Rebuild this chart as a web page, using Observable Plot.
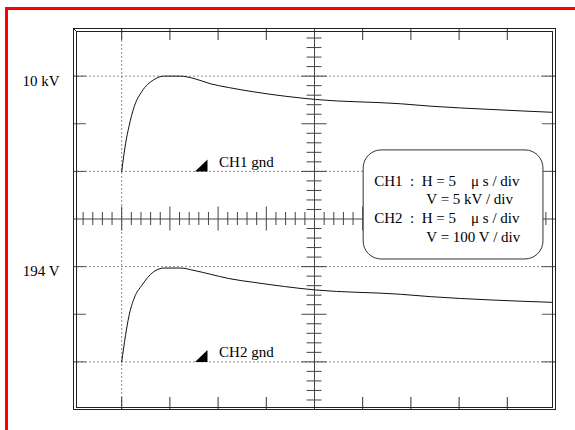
<!DOCTYPE html>
<html><head><meta charset="utf-8">
<script src="https://cdn.jsdelivr.net/npm/d3@7"></script>
<script src="https://cdn.jsdelivr.net/npm/@observablehq/plot@0.6"></script>
<style>
html,body{margin:0;padding:0;background:#fff;}
#wrap{position:relative;width:575px;height:430px;overflow:hidden;}
#red{position:absolute;left:5px;top:7px;width:700px;height:700px;border-left:3px solid #ff0000;border-top:3px solid #ff0000;}
#chart{position:absolute;left:0;top:0;}
svg text{white-space:pre;}
</style></head><body>
<div id="wrap"><div id="red"></div><div id="chart"></div></div>
<script>
// ---- data ----
const timeUs = [0, 0.4, 0.75, 1.3, 2.1, 3.3, 4.4, 6.1, 7.5, 9.2, 11.1, 13.7, 20.1, 28.9, 32.0, 38.3, 44.7];
const ch1kV  = [0, 2.9, 4.7, 6.8, 8.4, 9.6, 10.0, 10.0, 9.75, 9.2, 8.8, 8.35, 7.55, 7.1, 6.85, 6.5, 6.2];
const ch2V   = [0, 56, 96, 134, 161, 189, 197, 197, 192, 184, 175, 167, 151, 142, 137, 130, 125];
const ch1PerDiv = 5;    // kV / div
const ch2PerDiv = 100;  // V / div
const ch1Ground = 5;    // division of CH1 ground
const ch2Ground = 1;    // division of CH2 ground
const levelLabels = [{label: "10 kV", div: 7}, {label: "194 V", div: 3}];
const gndLabels = [{label: "CH1 gnd", div: ch1Ground}, {label: "CH2 gnd", div: ch2Ground}];
const gratLines = [1, 3, 5, 7];
const legendLines = ["CH1  :  H = 5    μ s / div", "V = 5 kV / div", "CH2  :  H = 5    μ s / div", "V = 100 V / div"];

// ---- derived tables ----
const ch1 = timeUs.map((t, i) => ({t, div: ch1Ground + ch1kV[i] / ch1PerDiv}));
const ch2 = timeUs.map((t, i) => ({t, div: ch2Ground + ch2V[i] / ch2PerDiv}));

const W = 575, H = 430, mL = 73, mR = 20, mT = 28, mB = 21;
const pxX = 50 / (W - mL - mR);   // µs per pixel
const pxY = 8 / (H - mT - mB);    // div per pixel

const hMinor = d3.range(-5, 45.01, 1).filter(t => t !== 20);
const vMinor = d3.range(0, 40.01, 1).map(k => k * 0.2).filter(v => Math.abs(v - 4) > 1e-6);
const isMajorT = t => Math.abs(t / 5 - Math.round(t / 5)) < 1e-6;
const isMajorV = v => Math.abs(v - Math.round(v)) < 1e-6;
const edgeT = d3.range(0, 40.01, 5).filter(t => t !== 20);
const edgeV = [1, 2, 3, 5, 6, 7];

const gndSymbol = {draw(ctx) { ctx.moveTo(0, 0); ctx.lineTo(-12.5, 0); ctx.lineTo(0, -12); ctx.closePath(); }};

const grey = "#8a8a8a", dark = "#222";
const fontFamily = "'Liberation Serif', 'Times New Roman', serif";

const chart = Plot.plot({
  width: W, height: H,
  marginLeft: mL, marginRight: mR, marginTop: mT, marginBottom: mB,
  x: {domain: [-5, 45], axis: null},
  y: {domain: [0, 8], axis: null},
  style: {fontFamily, background: "transparent"},
  marks: [
    // dotted graticule
    Plot.ruleY(gratLines, {stroke: grey, strokeDasharray: "2,2"}),
    Plot.ruleX([0], {stroke: grey, strokeDasharray: "2,2"}),
    // centre cross
    Plot.ruleY([4], {stroke: "#444"}),
    Plot.ruleX([20], {stroke: "#444"}),
    Plot.ruleX(hMinor, {x: d => d, y1: d => 4 - (isMajorT(d) ? 12 : 6.5) * pxY, y2: d => 4 + (isMajorT(d) ? 12 : 6.5) * pxY, stroke: "#444"}),
    Plot.ruleY(vMinor, {y: d => d, x1: d => 20 - (isMajorV(d) ? 12.5 : 7.5) * pxX, x2: d => 20 + (isMajorV(d) ? 12.5 : 7.5) * pxX, stroke: "#444"}),
    // edge ticks
    Plot.ruleX(edgeT, {x: d => d, y1: 8, y2: 8 - 12 * pxY, stroke: "#333"}),
    Plot.ruleX(edgeT, {x: d => d, y1: 0, y2: 12 * pxY, stroke: "#333"}),
    Plot.ruleY(edgeV, {y: d => d, x1: -5, x2: -5 + 13 * pxX, stroke: "#555"}),
    Plot.ruleY(edgeV, {y: d => d, x1: 45, x2: 45 - 13 * pxX, stroke: "#555"}),
    // double frame
    Plot.frame({stroke: dark}),
    Plot.frame({stroke: dark, insetLeft: 3, insetTop: 3, insetRight: 3, insetBottom: 2}),
    Plot.link([0], {x1: -5, y1: 8, x2: -5 + 3 * pxX, y2: 8 - 3 * pxY, stroke: dark}),
    // traces
    Plot.line(ch1, {x: "t", y: "div", curve: "monotone-x", stroke: "#111", strokeWidth: 1}),
    Plot.line(ch2, {x: "t", y: "div", curve: "monotone-x", stroke: "#111", strokeWidth: 1}),
    // ground markers and labels
    Plot.dot(gndLabels, {x: 8.9, y: "div", symbol: gndSymbol, fill: "#000", stroke: null}),
    Plot.text(gndLabels, {x: 10, y: "div", text: "label", dx: 1, dy: -4.5, textAnchor: "start", lineAnchor: "bottom", fontSize: 15, fill: "#000"}),
    // level labels
    Plot.text(levelLabels, {x: -5, y: "div", text: "label", dx: -14, dy: 9.5, textAnchor: "end", lineAnchor: "bottom", fontSize: 15, fill: "#000"}),
    // settings box
    Plot.rect([0], {x1: 25.1, x2: 43.75, y1: 3.15, y2: 5.44, rx: 18, fill: "#fff", stroke: "#333"}),
    Plot.text(legendLines, {
      x: (d, i) => (i % 2 === 0 ? 26.2 : 31.6),
      y: (d, i) => 4.7 - 0.395 * i,
      text: d => d, textAnchor: "start", lineAnchor: "bottom", fontSize: 15, fill: "#000"
    })
  ]
});
document.getElementById("chart").appendChild(chart);
</script>
</body></html>
